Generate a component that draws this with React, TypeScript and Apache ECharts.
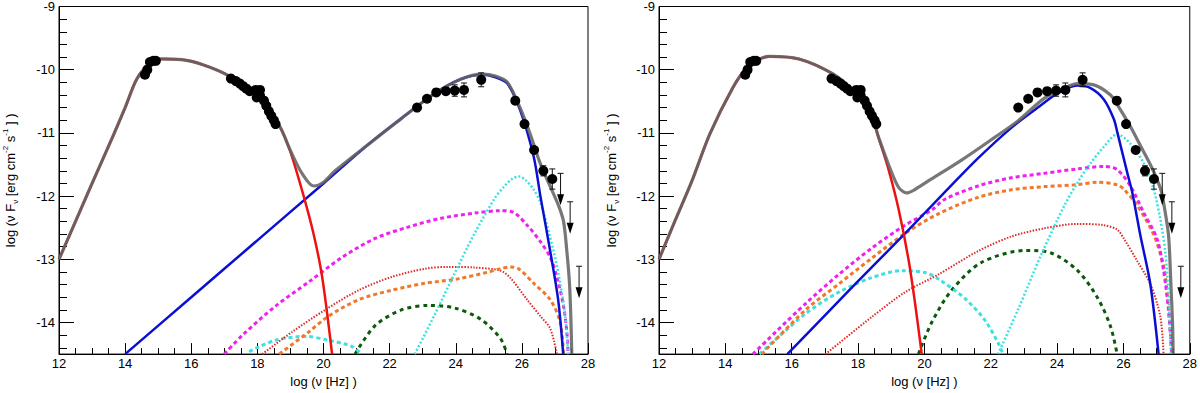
import React, { useEffect, useRef } from "react";
import * as echarts from "echarts";

// ---------- axis ticks ----------
const X_MIN = 12;
const X_MAX = 28;
const Y_MIN = -14.5;
const Y_MAX = -9;
const Y_MAJOR = [-14, -13, -12, -11, -10, -9];
const Y_MINOR: number[] = [];
for (let k = -72; k <= -45; k++) {
  const v = +(k * 0.2).toFixed(1);
  if (!Y_MAJOR.includes(v)) Y_MINOR.push(v);
}

// ---------- observed data (shared by both panels) ----------
const OPTICAL = [
  [14.6, -10.08], [14.67, -10.0], [14.75, -9.88], [14.85, -9.86], [14.93, -9.86],
];
const XRAY = [
  [17.2, -10.14], [17.35, -10.18], [17.47, -10.22], [17.57, -10.26], [17.67, -10.3],
  [17.77, -10.34], [17.95, -10.32], [18.08, -10.32], [17.98, -10.44], [18.08, -10.41],
  [18.2, -10.49], [18.27, -10.57], [18.35, -10.66], [18.42, -10.73], [18.5, -10.8],
  [18.55, -10.86],
];
// [log nu, log nuFnu, error]
const GAMMA = [
  [22.83, -10.6, 0], [23.13, -10.46, 0], [23.41, -10.36, 0], [23.7, -10.34, 0.04],
  [23.97, -10.33, 0.09], [24.25, -10.32, 0.11], [24.77, -10.16, 0.11],
  [25.8, -10.49, 0], [26.08, -10.86, 0], [26.37, -11.27, 0],
  [26.65, -11.6, 0.08], [26.92, -11.73, 0.16],
];
const UPPER_LIMITS = [[27.17, -11.64], [27.46, -12.09], [27.73, -13.11]];

// ---------- left panel model curves ----------
const L_SYNC = [
  [12, -13], [12.5, -12.4], [13, -11.8], [13.65, -11.03], [14, -10.6], [14.35, -10.15],
  [14.7, -9.93], [15.1, -9.83], [15.7, -9.84], [16.35, -9.92], [17.15, -10.1],
  [17.95, -10.4], [18.3, -10.6], [18.7, -10.92], [19.0, -11.3], [19.4, -12.0],
  [19.7, -12.6], [19.96, -13.28], [20.26, -14.5],
];
const L_TOTAL = [
  [12, -13], [12.5, -12.4], [13, -11.8], [13.65, -11.03], [14, -10.6], [14.35, -10.15],
  [14.7, -9.93], [15.1, -9.83], [15.7, -9.84], [16.35, -9.92], [17.15, -10.1],
  [17.95, -10.4], [18.3, -10.6], [18.7, -10.92], [19.0, -11.28], [19.36, -11.65],
  [19.7, -11.84], [20.0, -11.78], [20.35, -11.6], [21.36, -11.18], [22.36, -10.77],
  [23.35, -10.38], [24.15, -10.15], [24.8, -10.07], [25.2, -10.1], [25.56, -10.2],
  [25.96, -10.62], [26.26, -11.03], [26.56, -11.49], [26.86, -11.85], [27.11, -12.15],
  [27.26, -12.4], [27.36, -12.87], [27.44, -13.38], [27.48, -13.9], [27.51, -14.5],
];
const L_SSC = [
  [14, -14.5], [16, -13.6], [18, -12.7], [20, -11.8], [21.36, -11.18], [22.36, -10.77],
  [23.35, -10.38], [24.15, -10.15], [24.8, -10.08], [25.2, -10.12], [25.56, -10.22],
  [25.96, -10.66], [26.36, -11.38], [26.56, -12.0], [26.86, -12.88], [27.1, -13.65],
  [27.25, -14.5],
];
const L_MAGENTA = [
  [17, -14.5], [17.55, -14.2], [18.55, -13.74], [19.55, -13.36], [20.56, -12.97],
  [21.56, -12.67], [22.56, -12.49], [23.56, -12.35], [24.56, -12.27], [25.36, -12.23],
  [25.76, -12.26], [26.16, -12.46], [26.56, -12.72], [26.86, -12.97],
  [27.06, -13.28], [27.26, -13.74], [27.36, -14.15], [27.4, -14.5],
];
const L_RED_DOT = [
  [18.15, -14.5], [19.05, -14.15], [20.05, -13.8], [21.06, -13.49], [22.06, -13.28],
  [23.06, -13.15], [23.76, -13.12], [24.56, -13.13], [25.36, -13.18], [25.66, -13.3],
  [26.16, -13.64], [26.56, -13.9], [26.86, -14.1], [27.06, -14.5],
];
const L_ORANGE = [
  [18.66, -14.5], [19.55, -14.15], [20.15, -13.9], [21.06, -13.64], [22.06, -13.49],
  [23.06, -13.38], [24.06, -13.31], [25.0, -13.2], [25.36, -13.15], [25.66, -13.12],
  [25.9, -13.15], [26.36, -13.38], [26.86, -13.64], [27.16, -14.0], [27.26, -14.5],
];
const L_CYAN_LOW = [
  [17.75, -14.46], [18.55, -14.28], [19.45, -14.22], [20.15, -14.28], [20.86, -14.38],
  [21.16, -14.5],
];
const L_CYAN_HIGH = [
  [22.76, -14.5], [23.36, -13.88], [23.96, -13.23], [24.56, -12.6], [25.16, -12.05],
  [25.46, -11.85], [25.7, -11.73], [25.91, -11.69], [26.1, -11.74], [26.36, -11.9],
  [26.56, -12.1], [26.96, -12.87], [27.16, -13.38], [27.31, -13.9], [27.4, -14.5],
];
const L_GREEN = [
  [20.95, -14.5], [21.56, -14.05], [22.36, -13.8], [23.16, -13.73], [23.96, -13.77],
  [24.76, -13.95], [25.36, -14.26], [25.55, -14.5],
];

// ---------- right panel model curves ----------
const R_SYNC = [
  [12, -13], [12.5, -12.37], [13, -11.75], [13.53, -11.02], [14.22, -10.29],
  [14.63, -9.98], [15.0, -9.84], [15.33, -9.79], [16.22, -9.83], [17.22, -10.06],
  [17.82, -10.32], [18.42, -10.76], [18.62, -11.08], [18.92, -11.58], [19.22, -12.2],
  [19.52, -13.0], [19.72, -13.7], [19.92, -14.5],
];
const R_TOTAL = [
  [12, -13], [12.5, -12.37], [13, -11.75], [13.53, -11.02], [14.22, -10.29],
  [14.63, -9.98], [15.0, -9.84], [15.33, -9.79], [16.22, -9.83], [17.22, -10.06],
  [17.82, -10.32], [18.42, -10.76], [18.62, -11.07], [18.92, -11.5], [19.22, -11.86],
  [19.47, -11.95], [19.7, -11.9], [20.12, -11.76], [21.12, -11.43], [22.12, -11.07],
  [22.82, -10.81], [23.62, -10.45], [24.22, -10.29], [24.61, -10.22], [25.11, -10.24],
  [25.61, -10.4], [25.81, -10.55], [26.21, -10.9], [26.51, -11.2], [26.81, -11.5],
  [27.0, -11.72], [27.14, -11.92], [27.21, -12.1], [27.36, -12.62], [27.43, -13.39],
  [27.48, -14.0], [27.5, -14.5],
];
const R_SSC = [
  [15.87, -14.5], [17.92, -13.39], [19.42, -12.59], [20.5, -12.0], [21.62, -11.4],
  [22.62, -10.92], [23.42, -10.6], [24.02, -10.37], [24.61, -10.25], [25.01, -10.29],
  [25.41, -10.47], [25.71, -10.78], [25.82, -11.0], [26.12, -11.64], [26.27, -11.95],
  [26.51, -12.62], [26.81, -13.39], [27.06, -14.5],
];
const R_MAGENTA = [
  [14.83, -14.5], [16.42, -13.7], [17.42, -13.24], [18.42, -12.82], [19.42, -12.46],
  [20.22, -12.22], [20.62, -12.05], [21.62, -11.84], [22.62, -11.71], [23.62, -11.64],
  [24.61, -11.57], [25.41, -11.53], [25.81, -11.58], [26.21, -11.84], [26.61, -12.26],
  [27.01, -12.67], [27.21, -13.18], [27.36, -13.8], [27.46, -14.5],
];
const R_ORANGE = [
  [15.1, -14.5], [16.42, -13.8], [17.42, -13.39], [18.42, -12.98], [19.42, -12.59],
  [20.42, -12.28], [21.62, -12.02], [22.62, -11.9], [23.62, -11.85], [24.61, -11.82],
  [25.21, -11.78], [25.81, -11.82], [26.01, -11.89], [26.42, -12.15], [26.92, -12.62],
  [27.22, -13.13], [27.36, -13.8], [27.46, -14.5],
];
const R_CYAN_LOW = [
  [15.03, -14.5], [16.42, -13.86], [17.42, -13.52], [18.42, -13.29], [19.32, -13.18],
  [20.02, -13.21], [20.42, -13.31], [21.22, -13.62], [21.82, -13.96], [22.22, -14.32],
  [22.37, -14.5],
];
const R_CYAN_HIGH = [
  [22.22, -14.5], [22.82, -13.8], [23.52, -12.93], [24.22, -12.15], [24.61, -11.79],
  [25.01, -11.48], [25.41, -11.22], [25.81, -11.02], [26.21, -11.17], [26.61, -11.48],
  [26.91, -11.89], [27.11, -12.36], [27.26, -12.87], [27.36, -13.6], [27.43, -14.5],
];
const R_RED_DOT = [
  [17.02, -14.5], [18.42, -13.91], [19.42, -13.52], [20.42, -13.24], [21.62, -12.87],
  [22.62, -12.64], [23.62, -12.51], [24.61, -12.44], [25.41, -12.46], [25.81, -12.53],
  [26.01, -12.67], [26.42, -13.03], [26.81, -13.39], [27.11, -13.9], [27.21, -14.5],
];
const R_GREEN = [
  [19.82, -14.5], [20.22, -14.0], [20.82, -13.49], [21.72, -13.05], [23.07, -12.86],
  [23.82, -12.9], [24.62, -13.18], [25.21, -13.6], [25.61, -14.06], [25.81, -14.5],
];

const FONT = "'Liberation Sans', Arial, Helvetica, sans-serif";

const COLORS = {
  total: "#646464",
  sync: "#ee1111",
  ssc: "#0a10d2",
  magenta: "#ee22ee",
  orange: "#f07828",
  redDot: "#dd2a2a",
  cyan: "#3ee0e0",
  green: "#0b5a0b",
};

function lineSeries(name: string, data: number[][], panel: number, color: string, width: number, type: any, opacity = 1, z = 2) {
  return {
    type: "line",
    name,
    xAxisIndex: panel,
    yAxisIndex: panel * 2,
    data,
    showSymbol: false,
    symbol: "none",
    smooth: 0.3,
    clip: true,
    z,
    lineStyle: { color, width, type, opacity },
    silent: true,
  };
}

function errRender(params: any, api: any) {
  const x = api.value(0);
  const y = api.value(1);
  const e = api.value(2);
  const hi = api.coord([x, y + e]);
  const lo = api.coord([x, y - e]);
  const w = 3;
  const st = { stroke: "#111", lineWidth: 1 };
  return {
    type: "group",
    children: [
      { type: "line", shape: { x1: hi[0], y1: hi[1], x2: lo[0], y2: lo[1] }, style: st },
      { type: "line", shape: { x1: hi[0] - w, y1: hi[1], x2: hi[0] + w, y2: hi[1] }, style: st },
      { type: "line", shape: { x1: lo[0] - w, y1: lo[1], x2: lo[0] + w, y2: lo[1] }, style: st },
    ],
  };
}

function ulRender(params: any, api: any) {
  const p = api.coord([api.value(0), api.value(1)]);
  const st = { stroke: "#111", lineWidth: 1 };
  return {
    type: "group",
    children: [
      { type: "line", shape: { x1: p[0] - 3, y1: p[1], x2: p[0] + 3, y2: p[1] }, style: st },
      { type: "line", shape: { x1: p[0], y1: p[1], x2: p[0], y2: p[1] + 24 }, style: st },
      {
        type: "polygon",
        shape: { points: [[p[0] - 3.5, p[1] + 21], [p[0] + 3.5, p[1] + 21], [p[0], p[1] + 32]] },
        style: { fill: "#000" },
      },
    ],
  };
}

function panelSeries(panel: number, c: any) {
  const dash = [4, 3];
  const errData = GAMMA.filter((d) => d[2] > 0);
  return [
    lineSeries("green", c.green, panel, COLORS.green, 3, [4, 4]),
    lineSeries("cyanLow", c.cyanLow, panel, COLORS.cyan, 3, dash),
    lineSeries("redDot", c.redDot, panel, COLORS.redDot, 2, [1.5, 1.5]),
    lineSeries("orange", c.orange, panel, COLORS.orange, 3, dash),
    lineSeries("magenta", c.magenta, panel, COLORS.magenta, 3, dash),
    lineSeries("cyanHigh", c.cyanHigh, panel, COLORS.cyan, 2.5, [2, 2]),
    lineSeries("ssc", c.ssc, panel, COLORS.ssc, 2.5, "solid"),
    lineSeries("sync", c.sync, panel, COLORS.sync, 2.5, "solid"),
    lineSeries("total", c.total, panel, COLORS.total, 3.2, "solid", 0.88, 3),
    {
      type: "custom",
      xAxisIndex: panel,
      yAxisIndex: panel * 2,
      data: errData,
      renderItem: errRender,
      encode: { x: 0, y: 1 },
      z: 4,
      silent: true,
    },
    {
      type: "custom",
      xAxisIndex: panel,
      yAxisIndex: panel * 2,
      data: UPPER_LIMITS,
      renderItem: ulRender,
      encode: { x: 0, y: 1 },
      z: 4,
      silent: true,
    },
    {
      type: "scatter",
      xAxisIndex: panel,
      yAxisIndex: panel * 2,
      data: [...OPTICAL, ...XRAY, ...GAMMA.map((d) => [d[0], d[1]])],
      symbol: "circle",
      symbolSize: 10,
      itemStyle: { color: "#000", opacity: 1 },
      z: 5,
      silent: true,
    },
  ];
}

function xAxisDef(grid: number) {
  return {
    type: "value",
    gridIndex: grid,
    min: X_MIN,
    max: X_MAX,
    interval: 2,
    axisLine: { show: true, onZero: false, lineStyle: { color: "#000", width: 1 } },
    axisTick: { show: true, inside: true, length: 11, lineStyle: { color: "#000", width: 1 } },
    minorTick: { show: true, splitNumber: 4, length: 6, lineStyle: { color: "#000", width: 1 } },
    splitLine: { show: false },
    axisLabel: { color: "#000", fontSize: 13, fontFamily: FONT, margin: 3 },
    name: "log (ν [Hz] )",
    nameLocation: "middle",
    nameGap: 17,
    nameTextStyle: { color: "#000", fontSize: 13, fontFamily: FONT },
  };
}

const Y_NAME = "{a|log (ν F}{sub|ν}{a| [erg cm}{sup|-2}{a| s}{sup|-1}{a| ] )}";

function yAxesDef(grid: number, gap: number) {
  return [
    {
      type: "value",
      gridIndex: grid,
      min: Y_MIN,
      max: Y_MAX,
      axisLine: { show: true, onZero: false, lineStyle: { color: "#000", width: 1 } },
      axisTick: { show: true, inside: true, length: 15, customValues: Y_MAJOR, lineStyle: { color: "#000", width: 1 } },
      axisLabel: { show: true, customValues: Y_MAJOR, color: "#000", fontSize: 13, fontFamily: FONT, margin: 4 },
      splitLine: { show: false },
      name: Y_NAME,
      nameLocation: "middle",
      nameGap: gap,
      nameRotate: 90,
      nameTextStyle: {
        color: "#000",
        fontFamily: FONT,
        rich: {
          a: { fontSize: 13, fontFamily: FONT, color: "#000", lineHeight: 18 },
          sub: { fontSize: 8, fontFamily: FONT, color: "#000", verticalAlign: "bottom", lineHeight: 18 },
          sup: { fontSize: 8, fontFamily: FONT, color: "#000", verticalAlign: "top", lineHeight: 18 },
        },
      },
    },
    {
      type: "value",
      gridIndex: grid,
      min: Y_MIN,
      max: Y_MAX,
      position: "left",
      axisLine: { show: false },
      axisTick: { show: true, inside: true, length: 8, customValues: Y_MINOR, lineStyle: { color: "#000", width: 1 } },
      axisLabel: { show: false },
      splitLine: { show: false },
    },
  ];
}

export default function App() {
  const ref = useRef<HTMLDivElement>(null);
  useEffect(() => {
    if (!ref.current) return;
    const chart = echarts.init(ref.current, undefined, { renderer: "svg" });
    const left = {
      total: L_TOTAL, sync: L_SYNC, ssc: L_SSC, magenta: L_MAGENTA, orange: L_ORANGE,
      redDot: L_RED_DOT, cyanLow: L_CYAN_LOW, cyanHigh: L_CYAN_HIGH, green: L_GREEN,
    };
    const right = {
      total: R_TOTAL, sync: R_SYNC, ssc: R_SSC, magenta: R_MAGENTA, orange: R_ORANGE,
      redDot: R_RED_DOT, cyanLow: R_CYAN_LOW, cyanHigh: R_CYAN_HIGH, green: R_GREEN,
    };
    chart.setOption({
      animation: false,
      backgroundColor: "#fff",
      textStyle: { fontFamily: FONT },
      grid: [
        { left: 55, right: 612, top: 5, bottom: 31, show: true, borderColor: "#000", borderWidth: 1, backgroundColor: "transparent" },
        { left: 659, right: 7, top: 6, bottom: 31, show: true, borderColor: "#000", borderWidth: 1, backgroundColor: "transparent" },
      ],
      xAxis: [xAxisDef(0), xAxisDef(1)],
      yAxis: [...yAxesDef(0, 40), ...yAxesDef(1, 39)],
      series: [...panelSeries(0, left), ...panelSeries(1, right)],
    });
    return () => chart.dispose();
  }, []);
  return (
    <div
      ref={ref}
      style={{ position: "absolute", left: 0, top: 0, width: 1200, height: 393, background: "#fff" }}
    />
  );
}
